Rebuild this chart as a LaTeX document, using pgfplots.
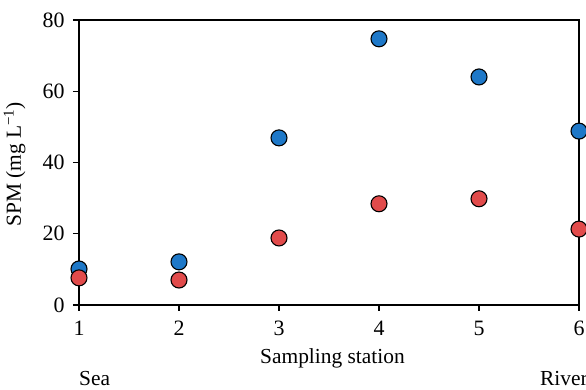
\documentclass[border=0pt]{standalone}
\usepackage{fontspec}
\setmainfont{Liberation Serif}
\usepackage{pgfplots}
\pgfplotsset{compat=1.18}
\definecolor{bluept}{RGB}{30,120,200}
\definecolor{redpt}{RGB}{225,75,75}
\begin{document}
\begin{tikzpicture}
\begin{axis}[
  scale only axis, width=500bp, height=285bp,
  xmin=1, xmax=6, ymin=0, ymax=80,
  xtick={1,2,3,4,5,6}, ytick={0,20,40,60,80},
  tick pos=left, tick align=outside, major tick length=6bp,
  axis line style={line width=1.2bp},
  every tick/.style={black, line width=1.2bp},
  clip=false,
  font=\fontsize{21.5}{25}\selectfont,
  ticklabel style={font=\fontsize{22}{26}\selectfont},
  yticklabel style={xshift=-5bp},
  xticklabel style={yshift=-7bp},
  /pgf/number format/assume math mode=true,
]
\addplot[only marks, mark=*, mark size=8bp, mark options={fill=bluept, draw=black, line width=1.1bp}]
  coordinates {(1,10.1) (2,12.1) (3,46.9) (4,74.7) (5,64.0) (6,48.8)};
\addplot[only marks, mark=*, mark size=8bp, mark options={fill=redpt, draw=black, line width=1.1bp}]
  coordinates {(1,7.6) (2,7.0) (3,18.8) (4,28.4) (5,29.8) (6,21.3)};
\node[anchor=base west, inner sep=0] at (axis cs:2.81,-16.3) {Sampling station};
\node[anchor=base west, inner sep=0] at (axis cs:1.0,-22.6) {Sea};
\node[anchor=base west, inner sep=0] at (axis cs:5.61,-22.5) {River};
\node[anchor=base west, inner sep=0, rotate=90] at (axis cs:0.42,21.9) {SPM (mg L\textsuperscript{\char"2212 1})};
\coordinate (bl) at (axis cs:0.21,-23.86);
\coordinate (tr) at (axis cs:6.07,85.6);
\end{axis}
\pgfresetboundingbox
\path[use as bounding box] (bl) rectangle (tr);
\end{tikzpicture}
\end{document}
